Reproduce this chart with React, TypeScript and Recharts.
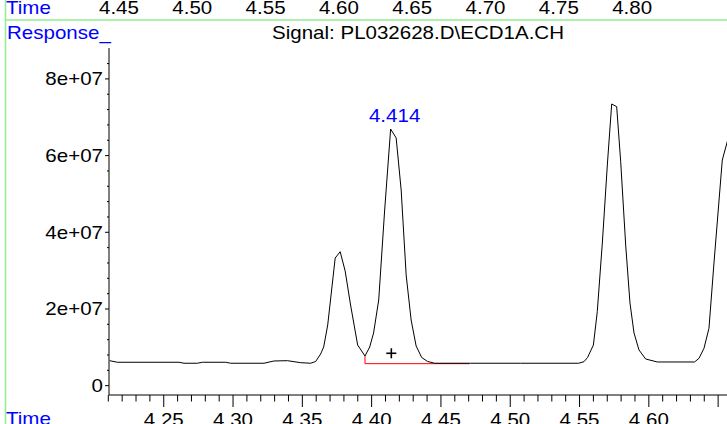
import React from "react";
import { ComposedChart, Line, Scatter, XAxis, YAxis } from "recharts";

// chromatogram trace (time in min, response in counts)
const traceTime = [
  4.211, 4.2165, 4.261, 4.2646, 4.2742, 4.2779, 4.2947, 4.2983, 4.3223, 4.3295,
  4.3392, 4.3488, 4.356, 4.3596, 4.3632, 4.3654, 4.3683, 4.3737, 4.3773, 4.3809,
  4.3848, 4.3899, 4.3952, 4.3986, 4.4014, 4.4051, 4.4094, 4.4137, 4.4177, 4.4213,
  4.4249, 4.4285, 4.4321, 4.4361, 4.4404, 4.4455, 4.4714, 4.5075, 4.5494, 4.5532,
  4.5558, 4.56, 4.5628, 4.5665, 4.5701, 4.5732, 4.5768, 4.5797, 4.5833, 4.5864,
  4.5893, 4.5929, 4.5977, 4.6061, 4.633, 4.6362, 4.6398, 4.6434, 4.647, 4.653,
  4.6566, 4.6605,
];
const traceResponse = [
  6.52e6, 6.11e6, 6.11e6, 5.85e6, 5.85e6, 6.11e6, 6.11e6, 5.85e6, 5.85e6, 6.44e6,
  6.52e6, 6.0e6, 5.85e6, 6.31e6, 8.26e6, 10.09e6, 15.82e6, 33.3e6, 34.94e6, 29.91e6,
  21.04e6, 10.61e6, 7.74e6, 10.09e6, 13.75e6, 22.35e6, 45.81e6, 66.93e6, 64.6e6, 51.03e6,
  28.87e6, 17.13e6, 10.35e6, 7.35e6, 6.31e6, 5.85e6, 5.85e6, 5.85e6, 5.85e6, 6.26e6,
  7.35e6, 10.61e6, 19.3e6, 37.47e6, 57.81e6, 73.46e6, 72.76e6, 58.41e6, 36.69e6, 21.57e6,
  13.75e6, 9.31e6, 6.96e6, 6.18e6, 6.18e6, 7.14e6, 9.75e6, 14.97e6, 32.0e6, 58.85e6,
  63.63e6, 67.98e6,
];

// integration baseline of the labelled peak
const baseTime = [4.3952, 4.3952, 4.4707];
const baseResponse = [7.74e6, 5.74e6, 5.74e6];

// peak apex label and the "+" marker
const peakTimes = [4.4137];
const peakHeights = [66.93e6];
const peakNames = ["4.414"];
const markTimes = [4.4142];
const markHeights = [8.45e6];

// axes
const xTicks = [
  4.21, 4.22, 4.23, 4.24, 4.25, 4.26, 4.27, 4.28, 4.29, 4.3, 4.31, 4.32, 4.33, 4.34, 4.35,
  4.36, 4.37, 4.38, 4.39, 4.4, 4.41, 4.42, 4.43, 4.44, 4.45, 4.46, 4.47, 4.48, 4.49, 4.5,
  4.51, 4.52, 4.53, 4.54, 4.55, 4.56, 4.57, 4.58, 4.59, 4.6, 4.61, 4.62, 4.63, 4.64, 4.65,
];
const xMajorTicks = [4.25, 4.3, 4.35, 4.4, 4.45, 4.5, 4.55, 4.6, 4.65];
const xMajorLabels = ["4.25", "4.30", "4.35", "4.40", "4.45", "4.50", "4.55", "4.60", ""];
const yTicks = [
  0, 4e6, 8e6, 12e6, 16e6, 20e6, 24e6, 28e6, 32e6, 36e6, 40e6,
  44e6, 48e6, 52e6, 56e6, 60e6, 64e6, 68e6, 72e6, 76e6, 80e6, 84e6,
];
const yMajorTicks = [0, 2e7, 4e7, 6e7, 8e7];
const yMajorLabels = ["0", "2e+07", "4e+07", "6e+07", "8e+07"];
// time scale of the panel above, only its labels show
const topTicks = [4.45, 4.5, 4.55, 4.6, 4.65, 4.7, 4.75, 4.8];
const topLabels = ["4.45", "4.50", "4.55", "4.60", "4.65", "4.70", "4.75", "4.80"];

const trace = traceTime.map((t, i) => ({ t, v: traceResponse[i] }));
const baseline = baseTime.map((t, i) => ({ t, v: baseResponse[i] }));
const peaks = peakTimes.map((t, i) => ({ t, v: peakHeights[i], name: peakNames[i] }));
const marks = markTimes.map((t, i) => ({ t, v: markHeights[i] }));
// empty series that only carries the top time scale
const topRows = topTicks.map((t) => ({ t }));

const FONT = "Arial, 'Liberation Sans', sans-serif";
const BLUE = "#0000ff";
const GREEN = "#90ee90";
const STRETCH = "scale(1.14,1)";

const idx = (list: number[], v: number) => list.findIndex((m) => Math.abs(m - v) < 1e-6);

function Label({ x, y, anchor, fill, children }: any) {
  return (
    <text
      transform={`translate(${x},${y}) ${STRETCH}`}
      textAnchor={anchor}
      fontSize={18}
      fontFamily={FONT}
      fill={fill}
    >
      {children}
    </text>
  );
}

function BottomTick({ x, y, payload }: any) {
  const i = idx(xMajorTicks, payload.value);
  return (
    <g>
      <line x1={x} y1={y} x2={x} y2={y + (i >= 0 ? 12 : 6.5)} stroke="#000" />
      {i >= 0 && xMajorLabels[i] ? (
        <Label x={x} y={y + 31} anchor="middle" fill="#000">
          {xMajorLabels[i]}
        </Label>
      ) : null}
    </g>
  );
}

function LeftTick({ x, y, payload }: any) {
  const i = idx(yMajorTicks, payload.value);
  return (
    <g>
      <line x1={x - (i >= 0 ? 4 : 2)} y1={y} x2={x} y2={y} stroke="#000" />
      {i >= 0 ? (
        <Label x={x - 6} y={y + 6.5} anchor="end" fill="#000">
          {yMajorLabels[i]}
        </Label>
      ) : null}
    </g>
  );
}

function TopTick({ x, y, payload }: any) {
  const i = idx(topTicks, payload.value);
  return (
    <Label x={x} y={y - 34.5} anchor="middle" fill="#000">
      {topLabels[i]}
    </Label>
  );
}

function PlusShape({ cx, cy }: any) {
  return (
    <g stroke="#000" strokeWidth={1.6}>
      <line x1={cx - 5} y1={cy} x2={cx + 5} y2={cy} />
      <line x1={cx} y1={cy - 5} x2={cx} y2={cy + 5} />
    </g>
  );
}

function PeakName({ cx, cy, payload }: any) {
  return (
    <Label x={cx + 4} y={cy - 7} anchor="middle" fill={BLUE}>
      {payload.name}
    </Label>
  );
}

export default function App() {
  return (
    <div
      style={{
        position: "absolute",
        left: 0,
        top: 0,
        width: 727,
        height: 424,
        overflow: "hidden",
        background: "#fff",
      }}
    >
      <ComposedChart width={727} height={424} margin={{ top: 0, right: 0, bottom: 0, left: 0 }}>
        <XAxis
          xAxisId="top"
          dataKey="t"
          orientation="top"
          type="number"
          domain={[4.4432, 4.8647]}
          allowDataOverflow
          ticks={topTicks}
          interval={0}
          height={48}
          axisLine={false}
          tickLine={false}
          tickSize={0}
          tickMargin={0}
          tick={TopTick}
        />
        <XAxis
          dataKey="t"
          type="number"
          domain={[4.2105, 4.6564]}
          allowDataOverflow
          ticks={xTicks}
          interval={0}
          height={29}
          axisLine={{ stroke: "#000" }}
          tickLine={false}
          tickSize={0}
          tickMargin={0}
          tick={BottomTick}
        />
        <YAxis
          dataKey="v"
          type="number"
          domain={[-2.43e6, 88.06e6]}
          allowDataOverflow
          ticks={yTicks}
          interval={0}
          width={109}
          axisLine={{ stroke: "#000" }}
          tickLine={false}
          tickSize={0}
          tickMargin={0}
          tick={LeftTick}
        />
        <Line
          xAxisId="top"
          data={topRows}
          dataKey="v"
          stroke="none"
          dot={false}
          activeDot={false}
          isAnimationActive={false}
        />
        <Line
          data={baseline}
          dataKey="v"
          type="linear"
          stroke="#ff0000"
          strokeWidth={1}
          dot={false}
          activeDot={false}
          isAnimationActive={false}
        />
        <Line
          data={trace}
          dataKey="v"
          type="linear"
          stroke="#000"
          strokeWidth={1}
          dot={false}
          activeDot={false}
          isAnimationActive={false}
        />
        <Scatter data={marks} dataKey="v" shape={PlusShape} isAnimationActive={false} />
        <Scatter data={peaks} dataKey="v" shape={PeakName} isAnimationActive={false} />
      </ComposedChart>
      <svg
        width={727}
        height={424}
        style={{ position: "absolute", left: 0, top: 0, pointerEvents: "none" }}
      >
        <line x1={5.5} y1={0} x2={5.5} y2={424} stroke={GREEN} strokeWidth={1.5} />
        <line x1={5.5} y1={20} x2={727} y2={20} stroke={GREEN} strokeWidth={1.5} />
        <Label x={6} y={13.5} anchor="start" fill={BLUE}>Time</Label>
        <Label x={7} y={38.5} anchor="start" fill={BLUE}>Response_</Label>
        <Label x={418} y={38.5} anchor="middle" fill="#000">
          {"Signal: PL032628.D\\ECD1A.CH"}
        </Label>
        <Label x={6} y={425} anchor="start" fill={BLUE}>Time</Label>
      </svg>
    </div>
  );
}
